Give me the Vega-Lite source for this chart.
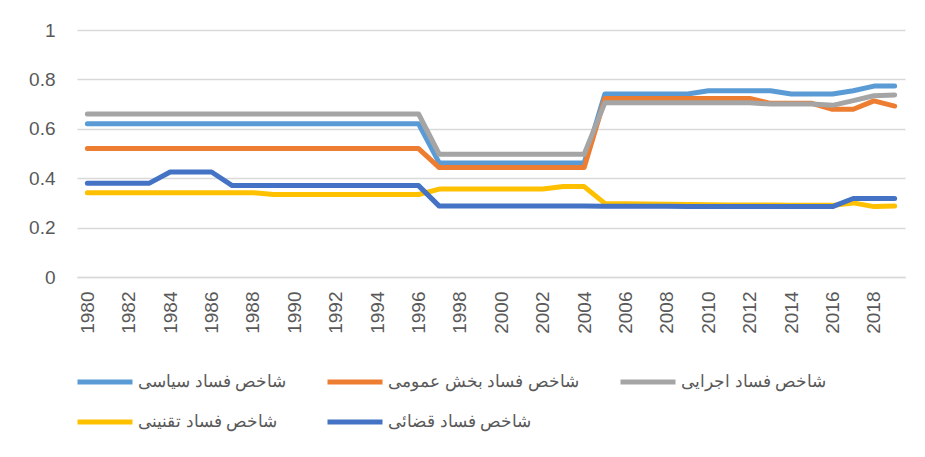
{
  "$schema": "https://vega.github.io/schema/vega-lite/v6.json",
  "width": 828,
  "height": 247,
  "autosize": {"type": "none"},
  "padding": {"left": 77, "top": 30, "right": 20, "bottom": 180},
  "background": "white",
  "config": {
    "view": {"stroke": null},
    "font": "Liberation Sans",
    "axis": {"labelColor": "#595959", "gridColor": "#D9D9D9", "gridWidth": 1.3, "domain": false, "ticks": false}
  },
  "data": {
    "values": [
      {"year":1980,"s":"P","v":0.62},{"year":1981,"s":"P","v":0.62},{"year":1982,"s":"P","v":0.62},{"year":1983,"s":"P","v":0.62},{"year":1984,"s":"P","v":0.62},{"year":1985,"s":"P","v":0.62},{"year":1986,"s":"P","v":0.62},{"year":1987,"s":"P","v":0.62},{"year":1988,"s":"P","v":0.62},{"year":1989,"s":"P","v":0.62},{"year":1990,"s":"P","v":0.62},{"year":1991,"s":"P","v":0.62},{"year":1992,"s":"P","v":0.62},{"year":1993,"s":"P","v":0.62},{"year":1994,"s":"P","v":0.62},{"year":1995,"s":"P","v":0.62},{"year":1996,"s":"P","v":0.62},{"year":1997,"s":"P","v":0.462},{"year":1998,"s":"P","v":0.462},{"year":1999,"s":"P","v":0.462},{"year":2000,"s":"P","v":0.462},{"year":2001,"s":"P","v":0.462},{"year":2002,"s":"P","v":0.462},{"year":2003,"s":"P","v":0.462},{"year":2004,"s":"P","v":0.462},{"year":2005,"s":"P","v":0.741},{"year":2006,"s":"P","v":0.741},{"year":2007,"s":"P","v":0.741},{"year":2008,"s":"P","v":0.741},{"year":2009,"s":"P","v":0.741},{"year":2010,"s":"P","v":0.754},{"year":2011,"s":"P","v":0.754},{"year":2012,"s":"P","v":0.754},{"year":2013,"s":"P","v":0.754},{"year":2014,"s":"P","v":0.741},{"year":2015,"s":"P","v":0.741},{"year":2016,"s":"P","v":0.741},{"year":2017,"s":"P","v":0.754},{"year":2018,"s":"P","v":0.773},{"year":2019,"s":"P","v":0.773},
      {"year":1980,"s":"G","v":0.52},{"year":1981,"s":"G","v":0.52},{"year":1982,"s":"G","v":0.52},{"year":1983,"s":"G","v":0.52},{"year":1984,"s":"G","v":0.52},{"year":1985,"s":"G","v":0.52},{"year":1986,"s":"G","v":0.52},{"year":1987,"s":"G","v":0.52},{"year":1988,"s":"G","v":0.52},{"year":1989,"s":"G","v":0.52},{"year":1990,"s":"G","v":0.52},{"year":1991,"s":"G","v":0.52},{"year":1992,"s":"G","v":0.52},{"year":1993,"s":"G","v":0.52},{"year":1994,"s":"G","v":0.52},{"year":1995,"s":"G","v":0.52},{"year":1996,"s":"G","v":0.52},{"year":1997,"s":"G","v":0.443},{"year":1998,"s":"G","v":0.443},{"year":1999,"s":"G","v":0.443},{"year":2000,"s":"G","v":0.443},{"year":2001,"s":"G","v":0.443},{"year":2002,"s":"G","v":0.443},{"year":2003,"s":"G","v":0.443},{"year":2004,"s":"G","v":0.443},{"year":2005,"s":"G","v":0.723},{"year":2006,"s":"G","v":0.723},{"year":2007,"s":"G","v":0.723},{"year":2008,"s":"G","v":0.723},{"year":2009,"s":"G","v":0.723},{"year":2010,"s":"G","v":0.723},{"year":2011,"s":"G","v":0.723},{"year":2012,"s":"G","v":0.723},{"year":2013,"s":"G","v":0.703},{"year":2014,"s":"G","v":0.703},{"year":2015,"s":"G","v":0.703},{"year":2016,"s":"G","v":0.679},{"year":2017,"s":"G","v":0.679},{"year":2018,"s":"G","v":0.713},{"year":2019,"s":"G","v":0.692},
      {"year":1980,"s":"E","v":0.66},{"year":1981,"s":"E","v":0.66},{"year":1982,"s":"E","v":0.66},{"year":1983,"s":"E","v":0.66},{"year":1984,"s":"E","v":0.66},{"year":1985,"s":"E","v":0.66},{"year":1986,"s":"E","v":0.66},{"year":1987,"s":"E","v":0.66},{"year":1988,"s":"E","v":0.66},{"year":1989,"s":"E","v":0.66},{"year":1990,"s":"E","v":0.66},{"year":1991,"s":"E","v":0.66},{"year":1992,"s":"E","v":0.66},{"year":1993,"s":"E","v":0.66},{"year":1994,"s":"E","v":0.66},{"year":1995,"s":"E","v":0.66},{"year":1996,"s":"E","v":0.66},{"year":1997,"s":"E","v":0.497},{"year":1998,"s":"E","v":0.497},{"year":1999,"s":"E","v":0.497},{"year":2000,"s":"E","v":0.497},{"year":2001,"s":"E","v":0.497},{"year":2002,"s":"E","v":0.497},{"year":2003,"s":"E","v":0.497},{"year":2004,"s":"E","v":0.497},{"year":2005,"s":"E","v":0.705},{"year":2006,"s":"E","v":0.705},{"year":2007,"s":"E","v":0.705},{"year":2008,"s":"E","v":0.705},{"year":2009,"s":"E","v":0.705},{"year":2010,"s":"E","v":0.705},{"year":2011,"s":"E","v":0.705},{"year":2012,"s":"E","v":0.705},{"year":2013,"s":"E","v":0.70},{"year":2014,"s":"E","v":0.70},{"year":2015,"s":"E","v":0.70},{"year":2016,"s":"E","v":0.695},{"year":2017,"s":"E","v":0.714},{"year":2018,"s":"E","v":0.734},{"year":2019,"s":"E","v":0.737},
      {"year":1980,"s":"R","v":0.341},{"year":1981,"s":"R","v":0.341},{"year":1982,"s":"R","v":0.341},{"year":1983,"s":"R","v":0.341},{"year":1984,"s":"R","v":0.341},{"year":1985,"s":"R","v":0.341},{"year":1986,"s":"R","v":0.341},{"year":1987,"s":"R","v":0.341},{"year":1988,"s":"R","v":0.341},{"year":1989,"s":"R","v":0.334},{"year":1990,"s":"R","v":0.334},{"year":1991,"s":"R","v":0.334},{"year":1992,"s":"R","v":0.334},{"year":1993,"s":"R","v":0.334},{"year":1994,"s":"R","v":0.334},{"year":1995,"s":"R","v":0.334},{"year":1996,"s":"R","v":0.334},{"year":1997,"s":"R","v":0.356},{"year":1998,"s":"R","v":0.356},{"year":1999,"s":"R","v":0.356},{"year":2000,"s":"R","v":0.356},{"year":2001,"s":"R","v":0.356},{"year":2002,"s":"R","v":0.356},{"year":2003,"s":"R","v":0.366},{"year":2004,"s":"R","v":0.366},{"year":2005,"s":"R","v":0.298},{"year":2006,"s":"R","v":0.297},{"year":2007,"s":"R","v":0.296},{"year":2008,"s":"R","v":0.295},{"year":2009,"s":"R","v":0.294},{"year":2010,"s":"R","v":0.293},{"year":2011,"s":"R","v":0.292},{"year":2012,"s":"R","v":0.291},{"year":2013,"s":"R","v":0.291},{"year":2014,"s":"R","v":0.29},{"year":2015,"s":"R","v":0.29},{"year":2016,"s":"R","v":0.29},{"year":2017,"s":"R","v":0.30},{"year":2018,"s":"R","v":0.285},{"year":2019,"s":"R","v":0.287},
      {"year":1980,"s":"J","v":0.38},{"year":1981,"s":"J","v":0.38},{"year":1982,"s":"J","v":0.38},{"year":1983,"s":"J","v":0.38},{"year":1984,"s":"J","v":0.425},{"year":1985,"s":"J","v":0.425},{"year":1986,"s":"J","v":0.425},{"year":1987,"s":"J","v":0.37},{"year":1988,"s":"J","v":0.37},{"year":1989,"s":"J","v":0.37},{"year":1990,"s":"J","v":0.37},{"year":1991,"s":"J","v":0.37},{"year":1992,"s":"J","v":0.37},{"year":1993,"s":"J","v":0.37},{"year":1994,"s":"J","v":0.37},{"year":1995,"s":"J","v":0.37},{"year":1996,"s":"J","v":0.37},{"year":1997,"s":"J","v":0.287},{"year":1998,"s":"J","v":0.287},{"year":1999,"s":"J","v":0.287},{"year":2000,"s":"J","v":0.287},{"year":2001,"s":"J","v":0.287},{"year":2002,"s":"J","v":0.287},{"year":2003,"s":"J","v":0.287},{"year":2004,"s":"J","v":0.287},{"year":2005,"s":"J","v":0.286},{"year":2006,"s":"J","v":0.286},{"year":2007,"s":"J","v":0.286},{"year":2008,"s":"J","v":0.286},{"year":2009,"s":"J","v":0.285},{"year":2010,"s":"J","v":0.285},{"year":2011,"s":"J","v":0.285},{"year":2012,"s":"J","v":0.285},{"year":2013,"s":"J","v":0.285},{"year":2014,"s":"J","v":0.285},{"year":2015,"s":"J","v":0.285},{"year":2016,"s":"J","v":0.285},{"year":2017,"s":"J","v":0.318},{"year":2018,"s":"J","v":0.318},{"year":2019,"s":"J","v":0.318}
    ]
  },
  "mark": {"type": "line", "strokeWidth": 5, "strokeCap": "round", "strokeJoin": "round"},
  "encoding": {
    "x": {
      "field": "year", "type": "quantitative",
      "scale": {"domain": [1979.5, 2019.5], "nice": false, "zero": false},
      "axis": {
        "title": null, "grid": false, "domain": true, "domainColor": "#D9D9D9", "domainWidth": 1.3,
        "values": [1980,1982,1984,1986,1988,1990,1992,1994,1996,1998,2000,2002,2004,2006,2008,2010,2012,2014,2016,2018],
        "format": "d", "labelAngle": -90, "labelFontSize": 19, "labelPadding": 14, "labelFlush": false
      }
    },
    "y": {
      "field": "v", "type": "quantitative",
      "scale": {"domain": [0, 1], "nice": false},
      "axis": {
        "title": null, "values": [0, 0.2, 0.4, 0.6, 0.8, 1], "format": "~g",
        "labelFontSize": 19, "labelPadding": 22
      }
    },
    "color": {
      "field": "s", "type": "nominal",
      "scale": {"domain": ["P", "G", "E", "R", "J"], "range": ["#5B9BD5", "#ED7D31", "#A5A5A5", "#FFC000", "#4472C4"]},
      "legend": {
        "title": null, "orient": "none", "legendX": -2, "legendY": 322,
        "direction": "horizontal", "columns": 3, "gridAlign": "each",
        "symbolType": "stroke", "symbolSize": 3025, "symbolStrokeWidth": 5,
        "labelFontSize": 17, "labelColor": "#595959", "labelOffset": 3, "labelLimit": 300,
        "columnPadding": 30, "rowPadding": -9,
        "labelExpr": "datum.label == 'P' ? 'شاخص فساد سیاسی' : datum.label == 'G' ? 'شاخص فساد بخش عمومی' : datum.label == 'E' ? 'شاخص فساد اجرایی' : datum.label == 'R' ? 'شاخص فساد تقنینی' : 'شاخص فساد قضائی'"
      }
    }
  }
}
